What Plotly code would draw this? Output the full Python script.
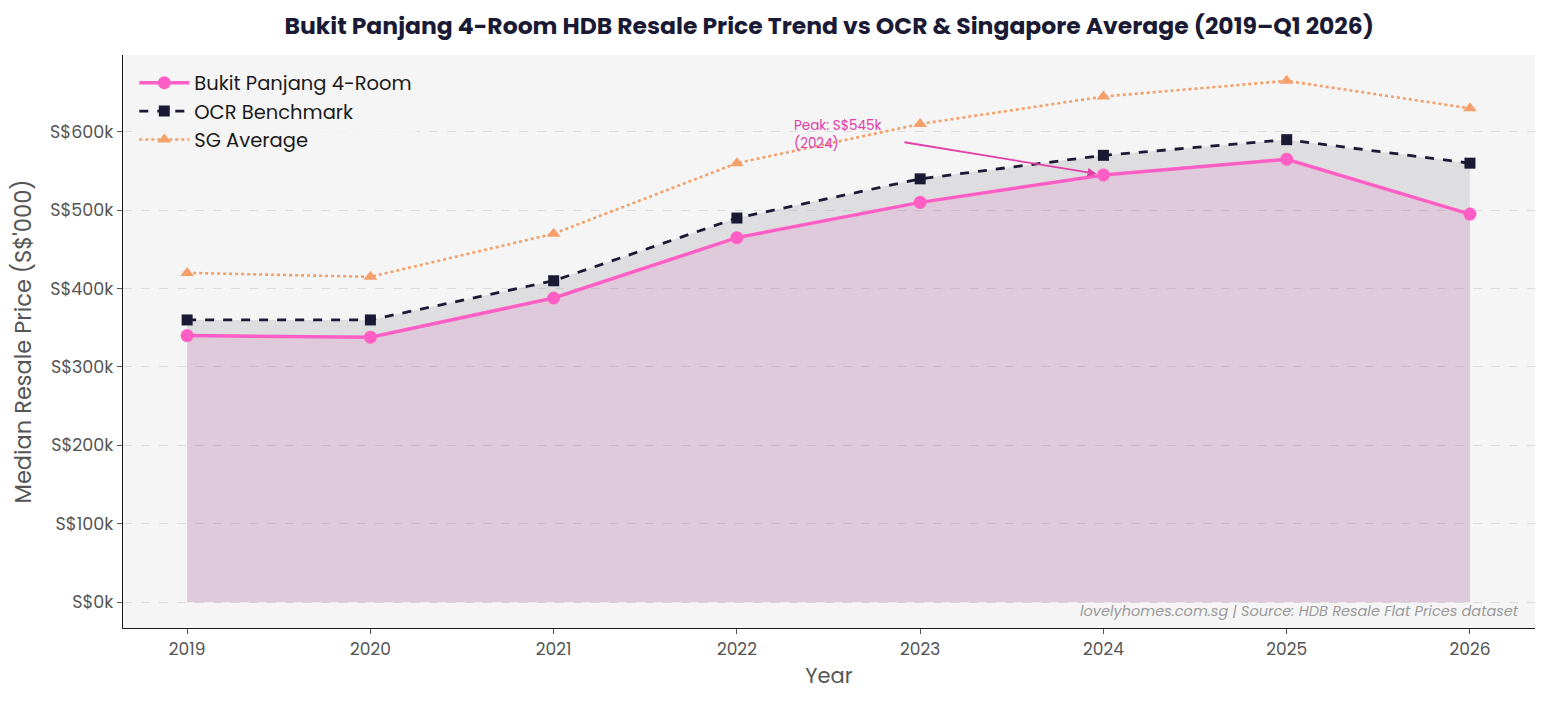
import plotly.graph_objects as go

years = [2019, 2020, 2021, 2022, 2023, 2024, 2025, 2026]
bukit_panjang = [340, 338, 388, 465, 510, 545, 565, 495]
ocr_benchmark = [360, 360, 410, 490, 540, 570, 590, 560]
sg_average = [420, 415, 470, 560, 610, 645, 665, 630]
y_ticks = [0, 100, 200, 300, 400, 500, 600]
y_tick_labels = [f"S${v}k" for v in y_ticks]

FONT = "Poppins, Inter, sans-serif"
PINK = "#ff5fc4"
NAVY = "#1a1a35"
ORANGE = "#f4a06a"

fig = go.Figure()
# Fill areas (no legend entries)
fig.add_trace(go.Scatter(
    x=years, y=bukit_panjang, mode="lines", fill="tozeroy",
    fillcolor="rgba(172,102,158,0.3)", line=dict(color="rgba(172,102,158,0.35)", width=1),
    showlegend=False, hoverinfo="skip",
))
fig.add_trace(go.Scatter(
    x=years, y=ocr_benchmark, mode="lines", fill="tonexty",
    fillcolor="rgba(168,168,175,0.3)", line=dict(width=0),
    showlegend=False, hoverinfo="skip",
))
# Lines
fig.add_trace(go.Scatter(
    x=years, y=bukit_panjang, name="Bukit Panjang 4-Room",
    mode="lines+markers",
    line=dict(color=PINK, width=3.5),
    marker=dict(symbol="circle", size=13, color=PINK),
))
fig.add_trace(go.Scatter(
    x=years, y=ocr_benchmark, name="OCR Benchmark",
    mode="lines+markers",
    line=dict(color=NAVY, width=2.8, dash="dash"),
    marker=dict(symbol="square", size=11, color=NAVY),
))
fig.add_trace(go.Scatter(
    x=years, y=sg_average, name="SG Average",
    mode="lines+markers",
    line=dict(color=ORANGE, width=2.6, dash="dot"),
    marker=dict(symbol="triangle-up", size=12, color=ORANGE),
))

# Peak annotation
peak_idx = 5
fig.add_annotation(
    x=years[peak_idx], y=bukit_panjang[peak_idx], xref="x", yref="y",
    ax=2022.906, ay=587, axref="x", ayref="y",
    text="", showarrow=True, arrowhead=2, arrowsize=1, arrowwidth=1.8,
    arrowcolor="#e040a8", standoff=7,
)
fig.add_annotation(
    x=2022.3, y=623, xref="x", yref="y", xanchor="left", yanchor="top",
    text=f"Peak: S${bukit_panjang[peak_idx]}k<br>({years[peak_idx]})",
    showarrow=False, align="left",
    font=dict(family=FONT, size=13.5, color="#e040a8"),
)
fig.add_annotation(
    x=0.99, y=0.008, xref="paper", yref="paper", xanchor="right", yanchor="bottom",
    text="<i>lovelyhomes.com.sg | Source: HDB Resale Flat Prices dataset</i>",
    showarrow=False, font=dict(family=FONT, size=14.5, color="#9a9a9a"),
)

fig.update_layout(
    width=1547, height=701,
    margin=dict(l=123, r=12, t=55, b=73),
    paper_bgcolor="white", plot_bgcolor="#f5f5f5",
    font=dict(family=FONT, color="#555555"),
    title=dict(
        text="<b>Bukit Panjang 4-Room HDB Resale Price Trend vs OCR & Singapore Average (2019–Q1 2026)</b>",
        x=0.536, xanchor="center", y=0.963, yanchor="middle",
        font=dict(family=FONT, size=23.5, color="#1a1a35"),
    ),
    legend=dict(
        x=0.008, y=0.985, xanchor="left", yanchor="top",
        bgcolor="rgba(245,245,245,0.8)", borderwidth=0,
        font=dict(family=FONT, size=19.5, color="#1a1a1a"),
        itemwidth=50, traceorder="normal", tracegroupgap=0,
    ),
    showlegend=True,
)
fig.update_xaxes(
    range=[2018.65, 2026.355], tickvals=years, ticktext=[str(y) for y in years],
    showgrid=False, zeroline=False,
    showline=True, linecolor="#1a1a1a", linewidth=1.3,
    ticks="outside", ticklen=5, tickcolor="#555555",
    tickfont=dict(family=FONT, size=17, color="#555555"),
    title=dict(text="Year", font=dict(family=FONT, size=21, color="#555555"), standoff=8),
)
fig.update_yaxes(
    range=[-33, 698], tickvals=y_ticks, ticktext=y_tick_labels,
    showgrid=True, gridcolor="#dcdcdc", griddash="dash", gridwidth=1,
    zeroline=False,
    showline=True, linecolor="#1a1a1a", linewidth=1.3,
    ticks="outside", ticklen=5, tickcolor="#555555",
    tickfont=dict(family=FONT, size=17.5, color="#555555"),
    title=dict(text="Median Resale Price (S$'000)", font=dict(family=FONT, size=22.5, color="#555555"), standoff=12),
)

fig.write_html("out.html")
